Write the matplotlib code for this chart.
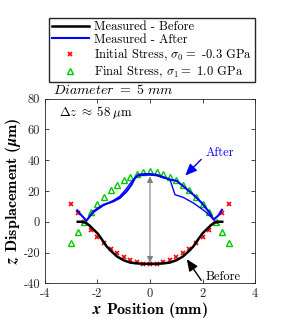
import numpy as np
import matplotlib
matplotlib.use('Agg')
import matplotlib.pyplot as plt

plt.rcParams['font.family'] = 'serif'
plt.rcParams['font.serif'] = ['cmr10']
plt.rcParams['mathtext.fontset'] = 'cm'
plt.rcParams['axes.unicode_minus'] = False
plt.rcParams['axes.formatter.use_mathtext'] = False

# model points (symmetric about x = 0)
x_half = [-3.0, -2.75, -2.5, -2.25, -2.0, -1.75, -1.5, -1.25, -1.0, -0.75, -0.5, -0.25, 0.0]
init_half = [11.5, 5.5, 0.0, -5.5, -10.0, -14.0, -17.5, -20.5, -23.0, -25.0, -26.3, -27.2, -27.5]
final_half = [-14.0, -6.5, 0.0, 6.3, 11.5, 16.0, 20.3, 24.0, 27.0, 29.0, 31.0, 32.3, 32.8]

x_model = x_half + [-v for v in x_half[-2::-1]]
z_init = init_half + init_half[-2::-1]
z_final = final_half + final_half[-2::-1]

# measured profile before
x_before = [-2.75, -2.6, -2.45, -2.3, -2.15, -2.0, -1.85, -1.65, -1.45, -1.25, -1.0, -0.75, -0.5, -0.25, 0.0,
            0.25, 0.5, 0.75, 1.0, 1.25, 1.45, 1.65, 1.85, 2.0, 2.15, 2.3, 2.45, 2.6, 2.75]
z_before = [0.0, 0.0, -0.5, -2.5, -5.0, -7.5, -11.0, -16.0, -19.5, -22.6, -25.0, -26.5, -27.0, -27.3, -27.3,
            -27.3, -27.0, -26.5, -25.0, -22.6, -19.5, -16.0, -11.0, -7.5, -5.0, -2.5, -0.5, 0.0, 0.0]

# measured profiles after (two scans)
x_after1 = [-2.77, -2.6, -2.42, -2.16, -1.78, -1.4, -1.15, -0.89, -0.7, -0.57, -0.45, -0.2, 0.0, 0.25,
            0.51, 0.76, 1.02, 1.27, 1.65, 1.97, 2.23, 2.42, 2.6, 2.74]
z_after1 = [7.4, 4.0, 0.7, 6.7, 11.0, 13.2, 15.4, 19.7, 24.1, 28.5, 30.5, 31.0, 31.0, 30.5,
            29.0, 27.4, 26.5, 23.0, 17.6, 12.2, 6.7, 1.5, 4.0, 7.8]
x_after2 = [-2.42, -2.16, -1.78, -1.4, -1.15, -0.92, -0.75, -0.6, -0.45, -0.2, 0.0, 0.25,
            0.51, 0.76, 0.95, 1.27, 1.65, 2.1, 2.42]
z_after2 = [0.7, 6.0, 10.5, 13.8, 16.5, 21.0, 25.0, 28.0, 29.8, 30.3, 30.3, 30.0,
            28.5, 27.4, 17.6, 15.8, 12.2, 6.7, 1.5]

fig = plt.figure(figsize=(2.86, 3.23), dpi=100)
ax = fig.add_axes([0.157, 0.1226, 0.735, 0.5724])

ax.plot(x_before, z_before, color='black', lw=1.8, label='Measured - Before', zorder=3)
ax.plot(x_after1, z_after1, color='blue', lw=1.5, label='Measured - After', zorder=4)
ax.plot(x_after2, z_after2, color='blue', lw=1.0, zorder=4)
ax.plot(x_model, z_init, 'x', color='red', ms=3.2, mew=1.2, ls='none',
        label=r'Initial Stress, $\sigma_0 = $ -0.3 GPa', zorder=2)
ax.plot(x_model, z_final, '^', color='#00c800', mfc='none', ms=4.2, mew=1.0, ls='none',
        label=r'Final Stress, $\sigma_1 = $ 1.0 GPa', zorder=2)

ax.annotate('', xy=(0, 29.5), xytext=(0, -26.5),
            arrowprops=dict(arrowstyle='<|-|>,head_length=0.5,head_width=0.25', color='gray',
                            lw=0.8, mutation_scale=7, shrinkA=0, shrinkB=0), zorder=1)

head = '-|>,head_length=0.7,head_width=0.3'
ax.annotate('', xy=(1.34, 30), xytext=(1.95, 40.5),
            arrowprops=dict(arrowstyle=head, color='blue', lw=1.0, mutation_scale=10,
                            shrinkA=0, shrinkB=0))
ax.text(2.65, 44.5, 'After', color='blue', fontsize=9, ha='center', va='center')
ax.annotate('', xy=(1.4, -24.3), xytext=(1.95, -38),
            arrowprops=dict(arrowstyle=head, color='black', lw=1.0, mutation_scale=10,
                            shrinkA=0, shrinkB=0))
ax.text(2.8, -36, 'Before', color='black', fontsize=9, ha='center', va='center')

ax.text(-3.46, 71, r'$\Delta z\;\approx\;58\;\mu$m', fontsize=9.3, va='center', ha='left')

ax.set_xlim(-4, 4)
ax.set_ylim(-40, 80)
ax.set_xticks([-4, -2, 0, 2, 4])
ax.set_yticks([-40, -20, 0, 20, 40, 60, 80])
ax.tick_params(direction='in', top=True, right=True, labelsize=9, length=3, width=0.6,
               colors='#262626')
for s in ax.spines.values():
    s.set_linewidth(0.6)
    s.set_color('#262626')

ax.set_xlabel(r'$\boldsymbol{x}$ Position (mm)', fontfamily='cmb10', fontsize=11.5, labelpad=0)
ax.set_ylabel(r'$\boldsymbol{z}$ Displacement ($\boldsymbol{\mu}$m)', fontfamily='cmb10',
              fontsize=11.5, labelpad=0)

fig.text(0.185, 0.722, r'$Diameter\ =\ 5\ mm$', fontsize=10, ha='left', va='center')

fig.legend(loc='upper left', bbox_to_anchor=(0.171, 0.944), fontsize=9.0, frameon=True,
           fancybox=False, edgecolor='#262626', framealpha=1, borderaxespad=0,
           handlelength=3.0, labelspacing=0.06, borderpad=0.22, handletextpad=0.4)

fig.savefig('out.png', dpi=100)
